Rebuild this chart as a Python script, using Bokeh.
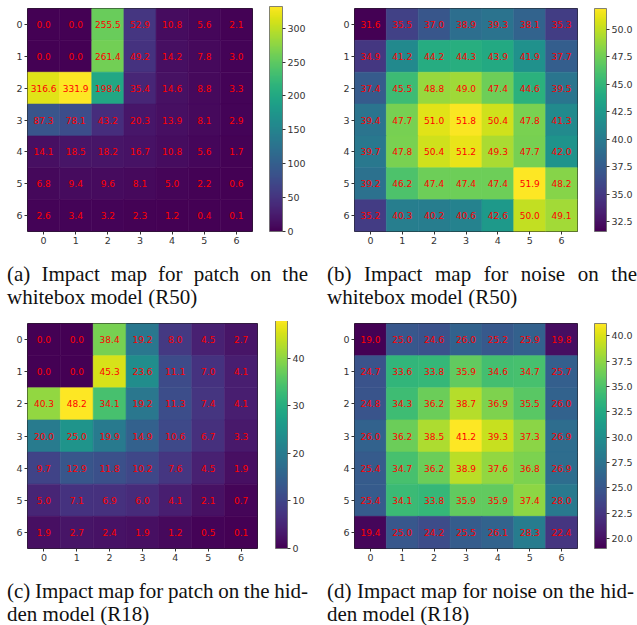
from bokeh.plotting import figure
from bokeh.models import (ColumnDataSource, LinearColorMapper, ColorBar, FixedTicker,
                          PrintfTickFormatter, Range1d, Div)
from bokeh.layouts import row, column
from bokeh.palettes import Viridis256
from bokeh.transform import transform
from bokeh.core.properties import value
from bokeh.embed import file_html
from bokeh.resources import INLINE

# ---------------- data ----------------
cell_ticks = [0, 1, 2, 3, 4, 5, 6]

patch_whitebox_r50 = [
    [0.0, 0.0, 255.5, 52.9, 10.8, 5.6, 2.1],
    [0.0, 0.0, 261.4, 49.2, 14.2, 7.8, 3.0],
    [316.6, 331.9, 198.4, 35.4, 14.6, 8.8, 3.3],
    [87.3, 78.1, 43.2, 20.3, 13.9, 8.1, 2.9],
    [14.1, 18.5, 18.2, 16.7, 10.8, 5.6, 1.7],
    [6.8, 9.4, 9.6, 8.1, 5.0, 2.2, 0.6],
    [2.6, 3.4, 3.2, 2.3, 1.2, 0.4, 0.1],
]
noise_whitebox_r50 = [
    [31.6, 35.5, 37.0, 38.9, 39.3, 38.1, 35.3],
    [34.9, 41.2, 44.2, 44.3, 43.9, 41.9, 37.7],
    [37.4, 45.5, 48.8, 49.0, 47.4, 44.6, 39.5],
    [39.4, 47.7, 51.0, 51.8, 50.4, 47.8, 41.3],
    [39.7, 47.8, 50.4, 51.2, 49.3, 47.7, 42.0],
    [39.2, 46.2, 47.4, 47.4, 47.4, 51.9, 48.2],
    [35.2, 40.3, 40.2, 40.6, 42.6, 50.0, 49.1],
]
patch_hidden_r18 = [
    [0.0, 0.0, 38.4, 19.2, 8.0, 4.5, 2.7],
    [0.0, 0.0, 45.3, 23.6, 11.1, 7.0, 4.1],
    [40.3, 48.2, 34.1, 19.2, 11.3, 7.4, 4.1],
    [20.0, 25.0, 19.9, 14.9, 10.6, 6.7, 3.3],
    [9.7, 12.9, 11.8, 10.2, 7.6, 4.5, 1.9],
    [5.0, 7.1, 6.9, 6.0, 4.1, 2.1, 0.7],
    [1.9, 2.7, 2.4, 1.9, 1.2, 0.5, 0.1],
]
noise_hidden_r18 = [
    [19.0, 25.0, 24.6, 26.0, 25.2, 25.9, 19.8],
    [24.7, 33.6, 33.8, 35.9, 34.6, 34.7, 25.7],
    [24.8, 34.3, 36.2, 38.7, 36.9, 35.5, 26.0],
    [26.0, 36.2, 38.5, 41.2, 39.3, 37.3, 26.9],
    [25.4, 34.7, 36.2, 38.9, 37.6, 36.8, 26.9],
    [25.4, 34.1, 33.8, 35.9, 35.9, 37.4, 28.0],
    [19.4, 25.0, 24.2, 25.5, 26.1, 28.3, 22.4],
]

cbar_ticks_a = [0, 50, 100, 150, 200, 250, 300]
cbar_ticks_b = [32.5, 35.0, 37.5, 40.0, 42.5, 45.0, 47.5, 50.0]
cbar_ticks_c = [0, 10, 20, 30, 40]
cbar_ticks_d = [20.0, 22.5, 25.0, 27.5, 30.0, 32.5, 35.0, 37.5, 40.0]

caption_a = ("(a) Impact map for patch on the", "whitebox model (R50)")
caption_b = ("(b) Impact map for noise on the", "whitebox model (R50)")
caption_c = ("(c) Impact map for patch on the hid-", "den model (R18)")
caption_d = ("(d) Impact map for noise on the hid-", "den model (R18)")

# ---------------- style ----------------
TICK_FONT = "DejaVu Sans"
TICK_SIZE = "9.5px"
TICK_COLOR = "#333333"


def make_panel(matrix, cticks, cfmt, fig_w, fig_h, b_left, b_top, b_right, b_bottom,
               bar_gap, bar_w):
    xs, ys, vs, labels = [], [], [], []
    for r, row_vals in enumerate(matrix):
        for c, v in enumerate(row_vals):
            xs.append(cell_ticks[c])
            ys.append(cell_ticks[r])
            vs.append(v)
            labels.append(f"{v:.1f}")
    src = ColumnDataSource(dict(x=xs, y=ys, v=vs, label=labels))
    mapper = LinearColorMapper(palette=Viridis256, low=min(vs), high=max(vs))

    p = figure(width=fig_w, height=fig_h, title=None,
               x_range=Range1d(-0.5, 6.5), y_range=Range1d(6.5, -0.5),
               output_backend="svg", toolbar_location=None,
               min_border_left=b_left, min_border_top=b_top,
               min_border_right=b_right, min_border_bottom=b_bottom)
    p.rect(x="x", y="y", width=1, height=1, source=src,
           fill_color=transform("v", mapper), line_color=transform("v", mapper),
           line_width=0.6)
    p.text(x="x", y="y", text="label", source=src, text_align="center",
           text_baseline="middle", text_color="#ff0000", text_font_size="9px",
           text_font=value("DejaVu Sans"))

    for ax in (p.xaxis[0], p.yaxis[0]):
        ax.ticker = FixedTicker(ticks=cell_ticks)
        ax.major_tick_in = 0
        ax.major_tick_out = 3
        ax.minor_tick_line_color = None
        ax.axis_line_color = None
        ax.major_tick_line_color = TICK_COLOR
        ax.major_label_text_font = TICK_FONT
        ax.major_label_text_font_size = TICK_SIZE
        ax.major_label_text_color = TICK_COLOR
        ax.major_label_standoff = 2
    p.grid.visible = False
    p.outline_line_color = "#222222"
    p.outline_line_width = 1
    p.background_fill_color = "white"
    p.border_fill_color = "white"

    frame_h = fig_h - b_top - b_bottom
    cb = ColorBar(color_mapper=mapper, ticker=FixedTicker(ticks=cticks),
                  formatter=PrintfTickFormatter(format=cfmt),
                  width=bar_w, height=frame_h, location=(bar_gap, 0),
                  padding=0, margin=0,
                  major_tick_in=0, major_tick_out=3, major_tick_line_color=TICK_COLOR,
                  minor_tick_line_color=None, bar_line_color="#666666", bar_line_width=0.8,
                  major_label_text_font=TICK_FONT, major_label_text_font_size=TICK_SIZE,
                  major_label_text_color=TICK_COLOR, label_standoff=2,
                  background_fill_color=None, border_line_color=None)
    p.add_layout(cb, "right")
    return p


def caption_div(lines, w, h, pad_top, pad_left, line1_w, word_sp):
    line1, line2 = lines
    html = (
        '<div style="font-family:\'Liberation Serif\',\'Times New Roman\',serif;'
        'font-size:21px;line-height:22.5px;color:#111111;'
        f'padding-top:{pad_top}px;padding-left:{pad_left}px;margin:0;">'
        f'<div style="width:{line1_w}px;white-space:nowrap;word-spacing:{word_sp}px;'
        f'text-align:justify;text-align-last:justify;">{line1}</div>'
        f'<div style="white-space:nowrap;">{line2}</div></div>'
    )
    return Div(text=html, width=w, height=h, margin=0)


pa = make_panel(patch_whitebox_r50, cbar_ticks_a, "%d", 325, 250, 27, 7, 73, 18, 17, 13)
pb = make_panel(noise_whitebox_r50, cbar_ticks_b, "%.1f", 312, 250, 29, 8, 60, 19, 17, 12)
pc = make_panel(patch_hidden_r18, cbar_ticks_c, "%d", 325, 247, 27, 0, 68, 18, 18, 12)
pd = make_panel(noise_hidden_r18, cbar_ticks_d, "%.1f", 312, 247, 29, 2, 60, 20, 17, 12)

ca = caption_div(caption_a, 325, 71, 13, 7, 301, 0)
cbd = caption_div(caption_b, 312, 71, 13, 2, 310, 0)
cc = caption_div(caption_c, 325, 57, 12, 7, 301, -0.6)
cd = caption_div(caption_d, 312, 57, 12, 2, 307, 0)

layout = column(row(pa, pb), row(ca, cbd), row(pc, pd), row(cc, cd))

open("out.html", "w").write(file_html(layout, INLINE))
